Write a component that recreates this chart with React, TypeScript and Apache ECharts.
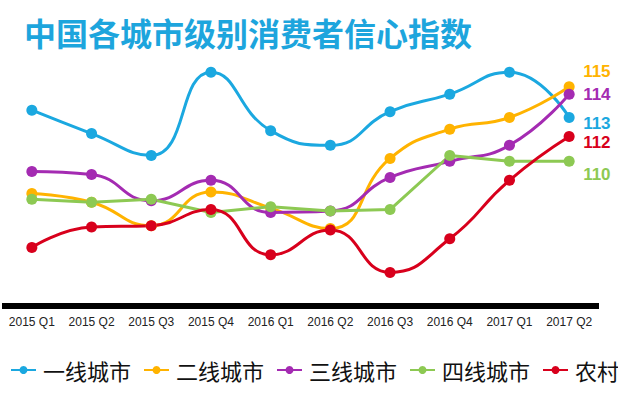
import React, { useEffect, useRef } from "react";
import * as echarts from "echarts";

const categories = [
  "2015 Q1", "2015 Q2", "2015 Q3", "2015 Q4", "2016 Q1",
  "2016 Q2", "2016 Q3", "2016 Q4", "2017 Q1", "2017 Q2",
];
const seriesNames = ["一线城市", "二线城市", "三线城市", "四线城市", "农村"];
const tier1 = [113.4, 111.8, 110.3, 116.0, 112.0, 111.0, 113.3, 114.5, 116.0, 112.9];
const tier2 = [107.7, 107.1, 105.5, 107.8, 106.7, 105.3, 110.1, 112.1, 112.9, 115.0];
const tier3 = [109.2, 109.0, 107.2, 108.6, 106.4, 106.5, 108.8, 109.9, 111.0, 114.5];
const tier4 = [107.3, 107.1, 107.3, 106.4, 106.8, 106.5, 106.6, 110.3, 109.9, 109.9];
const rural = [104.0, 105.4, 105.5, 106.6, 103.5, 105.2, 102.3, 104.6, 108.6, 111.6];
const endLabels = ["113", "115", "114", "110", "112"];

const colors = ["#1BA8E0", "#FFB300", "#A42BB2", "#8DC953", "#D8001C"];
const smoothFlags = [true, true, true, false, true];
const labelOffsets = [6, -15, 0, 13, 6];

export default function App() {
  const ref = useRef<HTMLDivElement>(null);
  useEffect(() => {
    if (!ref.current) return;
    const chart = echarts.init(ref.current, undefined, { renderer: "svg" });
    const data = [tier1, tier2, tier3, tier4, rural];
    chart.setOption({
      animation: false,
      backgroundColor: "#ffffff",
      color: colors,
      title: {
        text: "中国各城市级别消费者信心指数",
        left: 19,
        top: 11,
        textStyle: {
          fontFamily: "Noto Sans CJK SC",
          fontWeight: "bold",
          fontSize: 32,
          color: "#1DA5DD",
        },
      },
      legend: {
        data: seriesNames,
        left: 10,
        top: 359,
        width: 800,
        itemWidth: 25,
        itemHeight: 10,
        itemGap: 12,
        padding: 0,
        textStyle: {
          fontFamily: "Noto Sans CJK SC",
          fontSize: 22,
          color: "#111",
          padding: [0, 0, 0, 2],
        },
      },
      grid: { left: 2, right: 19, top: 43, bottom: 89 },
      xAxis: {
        type: "category",
        data: categories,
        boundaryGap: true,
        axisTick: { show: false },
        axisLine: { lineStyle: { color: "#000", width: 6, cap: "butt" } },
        axisLabel: {
          color: "#222",
          fontSize: 12,
          fontFamily: "Liberation Sans",
          margin: 10,
          interval: 0,
        },
      },
      yAxis: {
        type: "value",
        min: 100,
        max: 118,
        show: false,
        splitLine: { show: false },
      },
      series: seriesNames.map((name, i) => ({
        name,
        type: "line",
        data: data[i],
        smooth: smoothFlags[i],
        symbol: "circle",
        symbolSize: 11,
        lineStyle: { width: 3, color: colors[i] },
        itemStyle: { color: colors[i] },
        endLabel: {
          show: true,
          formatter: () => endLabels[i],
          color: colors[i],
          fontFamily: "Liberation Sans",
          fontWeight: "bold",
          fontSize: 17,
          distance: 14,
          offset: [0, labelOffsets[i]],
        },
      })),
    });
    return () => chart.dispose();
  }, []);
  return (
    <div
      ref={ref}
      style={{ position: "fixed", left: 0, top: 0, width: 618, height: 395 }}
    />
  );
}
